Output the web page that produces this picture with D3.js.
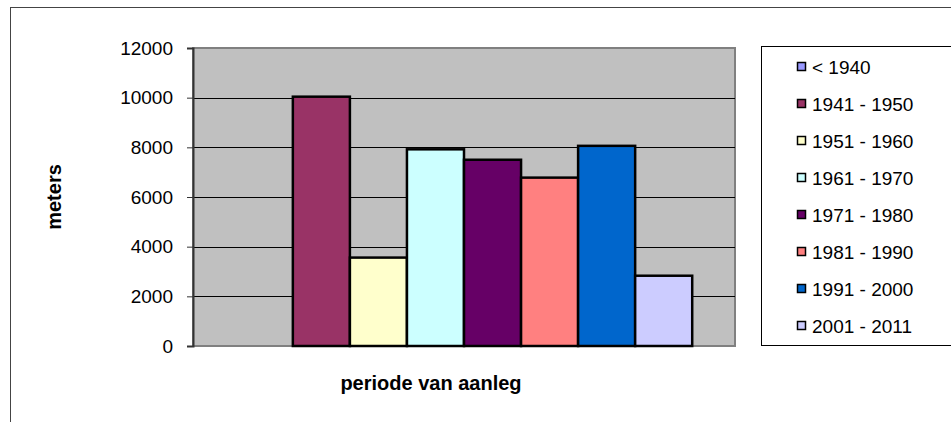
<!DOCTYPE html>
<html>
<head>
<meta charset="utf-8">
<script src="https://cdn.jsdelivr.net/npm/d3@7"></script>
<style>
  body { margin: 0; background: #fff; }
  text { font-family: "Liberation Sans", Arial, sans-serif; fill: #000; }
</style>
</head>
<body>
<div id="chart-area"></div>
<script>
const periods = ["< 1940", "1941 - 1950", "1951 - 1960", "1961 - 1970", "1971 - 1980", "1981 - 1990", "1991 - 2000", "2001 - 2011"];
const meters = [0, 10040, 3560, 7920, 7500, 6780, 8060, 2830];
const colors = ["#9999FF", "#993366", "#FFFFCC", "#CCFFFF", "#660066", "#FF8080", "#0066CC", "#CCCCFF"];
const yTicks = [0, 2000, 4000, 6000, 8000, 10000, 12000];
const groups = [""];

const plot = { left: 193, right: 735, top: 48, bottom: 346 };

const svg = d3.select("#chart-area")
  .append("svg")
    .attr("width", 951)
    .attr("height", 422);

// chart area border (runs off the right and bottom edge)
svg.append("rect")
  .attr("x", 10.5)
  .attr("y", 7.5)
  .attr("width", 1000)
  .attr("height", 500)
  .attr("fill", "#fff")
  .attr("stroke", "#444")
  .attr("stroke-width", 1);

const x0 = d3.scaleBand()
  .domain(groups)
  .range([plot.left, plot.right])
  .paddingOuter(0.75 / periods.length);

const x1 = d3.scaleBand()
  .domain(periods)
  .range([0, x0.bandwidth()]);

const y = d3.scaleLinear()
  .domain([0, 12000])
  .range([plot.bottom, plot.top]);

// plot area
svg.append("rect")
  .attr("x", plot.left)
  .attr("y", plot.top)
  .attr("width", plot.right - plot.left)
  .attr("height", plot.bottom - plot.top)
  .attr("fill", "#C0C0C0")
  .attr("stroke", "#808080")
  .attr("stroke-width", 2);

svg.append("g")
  .selectAll("line")
  .data(yTicks.filter(d => d > 0 && d < 12000))
  .enter().append("line")
    .attr("x1", plot.left)
    .attr("x2", plot.right)
    .attr("y1", d => Math.round(y(d)) + 0.5)
    .attr("y2", d => Math.round(y(d)) + 0.5)
    .attr("stroke", "#000")
    .attr("stroke-width", 1);

const yAxis = svg.append("g")
  .attr("transform", `translate(${plot.left}, 0)`)
  .call(d3.axisLeft(y).tickValues(yTicks).tickSize(6).tickPadding(14).tickFormat(d => d));

yAxis.select(".domain").attr("stroke", "#333").attr("stroke-width", 2);
yAxis.selectAll(".tick line").attr("stroke", "#333");
yAxis.selectAll("text")
  .attr("font-size", "19px")
  .attr("font-family", "Liberation Sans, Arial, sans-serif")
  .attr("fill", "#000");

// bars
svg.append("g")
  .selectAll("rect")
  .data(periods.map((p, i) => ({ period: p, value: meters[i], color: colors[i] })).filter(d => d.value > 0))
  .enter().append("rect")
    .attr("x", d => x0("") + x1(d.period))
    .attr("y", d => y(d.value))
    .attr("width", x1.bandwidth())
    .attr("height", d => plot.bottom - y(d.value))
    .attr("fill", d => d.color)
    .attr("stroke", "#000")
    .attr("stroke-width", 2.5);

// axis titles
svg.append("text")
  .attr("x", 431)
  .attr("y", 390)
  .attr("font-size", "20px")
  .attr("font-weight", "bold")
  .attr("text-anchor", "middle")
  .text("periode van aanleg");

svg.append("text")
  .attr("transform", `translate(61, ${(plot.top + plot.bottom) / 2}) rotate(-90)`)
  .attr("font-size", "20px")
  .attr("font-weight", "bold")
  .attr("text-anchor", "middle")
  .text("meters");

// legend
const legend = svg.append("g");

legend.append("rect")
  .attr("x", 761.5)
  .attr("y", 46.5)
  .attr("width", 300)
  .attr("height", 299)
  .attr("fill", "#fff")
  .attr("stroke", "#000")
  .attr("stroke-width", 1);

const items = legend.selectAll("g.item")
  .data(periods)
  .enter().append("g")
    .attr("class", "item")
    .attr("transform", (d, i) => `translate(0, ${67 + i * 37})`);

items.append("rect")
  .attr("x", 797.5)
  .attr("y", -4.5)
  .attr("width", 8)
  .attr("height", 8)
  .attr("fill", (d, i) => colors[i])
  .attr("stroke", "#000")
  .attr("stroke-width", 1.5);

items.append("text")
  .attr("x", 812)
  .attr("y", 7)
  .attr("font-size", "19px")
  .text(d => d);
</script>
</body>
</html>
